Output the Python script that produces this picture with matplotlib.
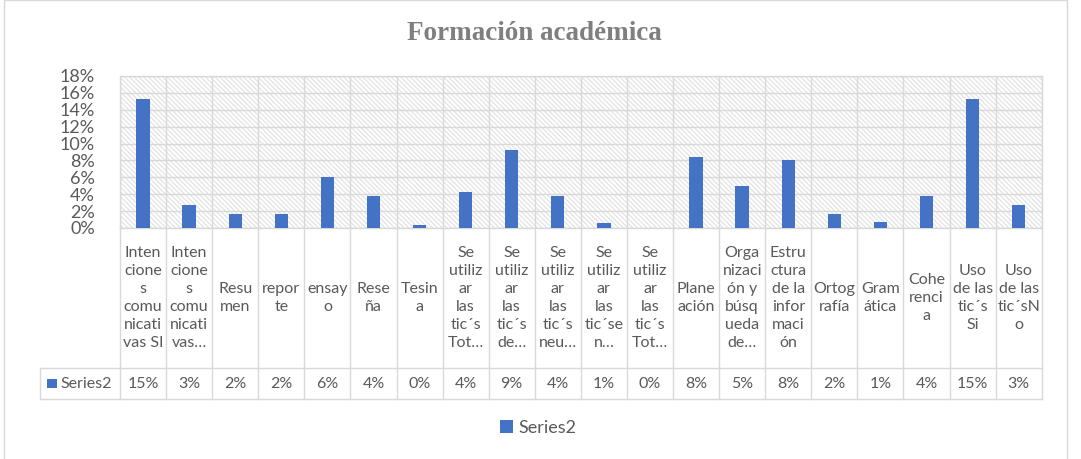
import matplotlib
matplotlib.use("Agg")
import numpy as np
import matplotlib.pyplot as plt
from matplotlib import transforms
from matplotlib.lines import Line2D
from matplotlib.patches import Rectangle

title = "Formación académica"
series_name = "Series2"
categories = [
    "Inten\ncione\ns\ncomu\nnicati\nvas SI",
    "Inten\ncione\ns\ncomu\nnicati\nvas…",
    "Resu\nmen",
    "repor\nte",
    "ensay\no",
    "Rese\nña",
    "Tesin\na",
    "Se\nutiliz\nar\nlas\ntic´s\nTot…",
    "Se\nutiliz\nar\nlas\ntic´s\nde…",
    "Se\nutiliz\nar\nlas\ntic´s\nneu…",
    "Se\nutiliz\nar\nlas\ntic´se\nn…",
    "Se\nutiliz\nar\nlas\ntic´s\nTot…",
    "Plane\nación",
    "Orga\nnizaci\nón y\nbúsq\nueda\nde…",
    "Estru\nctura\nde la\ninfor\nmaci\nón",
    "Ortog\nrafía",
    "Gram\nática",
    "Cohe\nrenci\na",
    "Uso\nde las\ntic´s\nSi",
    "Uso\nde las\ntic´sN\no",
]
values = [15.3, 2.7, 1.6, 1.6, 6.0, 3.8, 0.3, 4.3, 9.2, 3.8,
          0.6, 0.0, 8.4, 5.0, 8.0, 1.7, 0.7, 3.8, 15.3, 2.7]
yticks = [0, 2, 4, 6, 8, 10, 12, 14, 16, 18]

W, H = 1081, 459
plt.rcParams['font.family'] = ['Lato', 'DejaVu Sans']
plt.rcParams['hatch.linewidth'] = 0.9
TXT = '#595959'
GRID = '#d9d9d9'
BLUE = '#4472C4'

fig = plt.figure(figsize=(W / 100, H / 100), dpi=100)


def fx(px):
    return px / W


def fy(py):
    return 1 - py / H


L, R, T, B = 120, 1041.7, 76, 228
ax = fig.add_axes([fx(L), fy(B), fx(R) - fx(L), fy(T) - fy(B)])
ax.patch.set_visible(False)
ax.add_patch(Rectangle((0, 0), 1, 1, transform=ax.transAxes, facecolor='white',
                       edgecolor='#e3e3e3', hatch='\\' * 7, linewidth=0, zorder=0))

x = np.arange(len(values))
bars = ax.bar(x, values, width=0.29, color=BLUE, zorder=3, label=series_name)

ax.set_xlim(-0.5, len(values) - 0.5)
ax.set_ylim(0, 18)
ax.set_yticks(yticks)
ax.set_yticklabels([f"{t}%" for t in yticks])
ax.set_xticks([])
ax.set_xticks(np.arange(-0.5, len(values), 1), minor=True)
ax.grid(axis='y', which='major', color=GRID, lw=1, zorder=1)
ax.grid(axis='x', which='minor', color=GRID, lw=1, zorder=1)
ax.tick_params(axis='both', which='both', length=0)
ax.tick_params(axis='y', pad=18, labelsize=13, labelcolor=TXT)
for s in ax.spines.values():
    s.set_color(GRID)
    s.set_linewidth(1)

# title
fig.text(fx(534), fy(33), title, ha='center', va='center', fontsize=19.5,
         fontweight='bold', color='#7f7f7f', family=['Liberation Serif', 'DejaVu Serif'])

# data table
trans = transforms.blended_transform_factory(ax.transData, fig.transFigure)
hdr_top, hdr_bot, val_bot = 228, 368, 399
for k in range(len(values) + 1):
    fig.add_artist(Line2D([k - 0.5, k - 0.5], [fy(hdr_top), fy(val_bot)],
                          transform=trans, color=GRID, lw=1))
for yy in (hdr_bot, val_bot):
    fig.add_artist(Line2D([fx(40), fx(R)], [fy(yy), fy(yy)],
                          transform=fig.transFigure, color=GRID, lw=1))
fig.add_artist(Line2D([fx(40), fx(40)], [fy(hdr_bot), fy(val_bot)],
                      transform=fig.transFigure, color=GRID, lw=1))

for i, (lab, v) in enumerate(zip(categories, values)):
    ax.text(i, fy((hdr_top + hdr_bot) / 2), lab, transform=trans, ha='center',
            va='center', multialignment='center', fontsize=11.5, color=TXT,
            linespacing=1.35, clip_on=False)
    ax.text(i, fy(384), f"{v:.0f}%", transform=trans, ha='center', va='center',
            fontsize=11.5, color=TXT, clip_on=False)

fig.add_artist(Rectangle((fx(47), fy(388)), 10 / W, 9 / H, transform=fig.transFigure,
                         facecolor=BLUE, edgecolor='none'))
fig.text(fx(60), fy(384), series_name, ha='left', va='center', fontsize=11.5, color=TXT)

# legend
fig.legend(handles=[bars], labels=[series_name], loc='center',
           bbox_to_anchor=(fx(538), fy(428)), frameon=False, fontsize=13,
           handlelength=0.7, handleheight=0.7, handletextpad=0.3, labelcolor=TXT)

# outer border
fig.add_artist(Rectangle((fx(3.5), -0.1), fx(1067) - fx(3.5), fy(0.5) + 0.1,
                         transform=fig.transFigure, fill=False, edgecolor=GRID, lw=1))

fig.savefig("out.png", dpi=100)
